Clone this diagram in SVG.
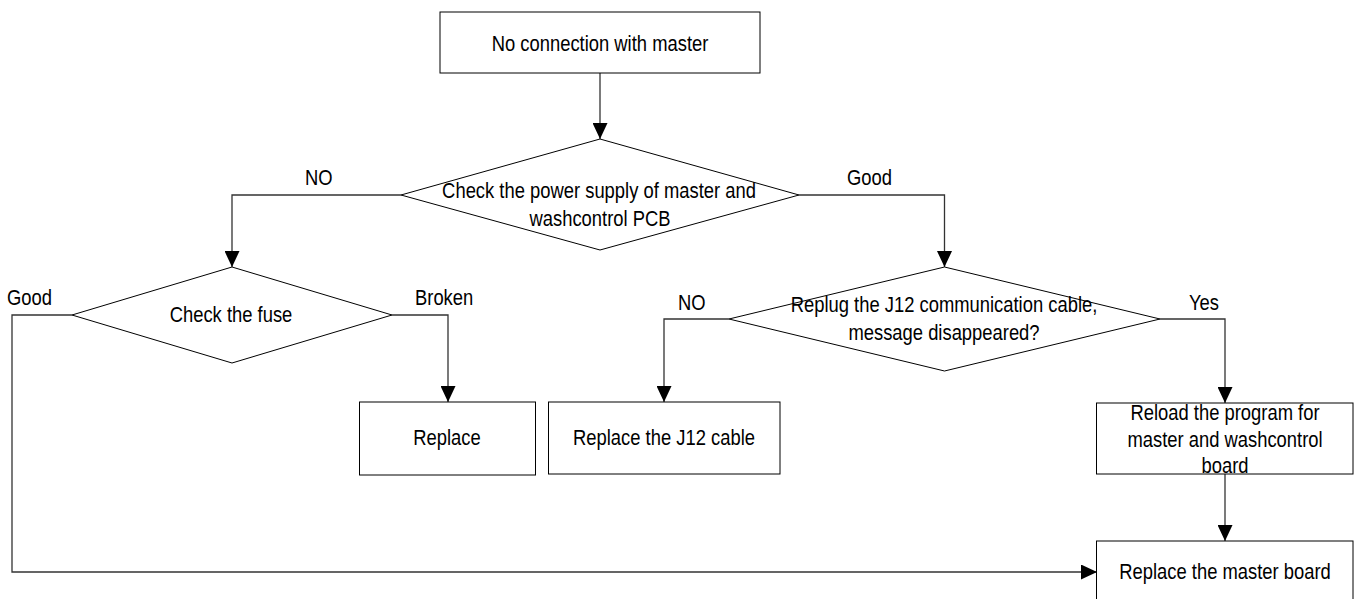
<svg xmlns="http://www.w3.org/2000/svg" width="1359" height="599" viewBox="0 0 1359 599">
<style>
  .shape { fill: #ffffff; stroke: #000000; stroke-width: 1; }
  .conn { fill: none; stroke: #333333; stroke-width: 1.3; }
  text { font-family: "Liberation Sans", Arial, sans-serif; font-size: 18.4px; fill: #000000; text-anchor: middle; }
  .lbl { text-anchor: start; }
</style>
<defs>
  <marker id="arrow" viewBox="0 0 16 15" refX="16" refY="7.5" markerWidth="16" markerHeight="15" markerUnits="userSpaceOnUse" orient="auto">
    <path d="M0,0 L16,7.5 L0,15 z" fill="#000000"/>
  </marker>
</defs>
<rect width="1359" height="599" fill="#ffffff"/>

<g id="connectors">
  <path class="conn" d="M600,73 L600,139" marker-end="url(#arrow)"/>
  <path class="conn" d="M401,195 L232,195 L232,267" marker-end="url(#arrow)"/>
  <path class="conn" d="M799,195 L944.5,195 L944.5,267" marker-end="url(#arrow)"/>
  <path class="conn" d="M392,315 L448,315 L448,402" marker-end="url(#arrow)"/>
  <path class="conn" d="M72,315 L12,315 L12,572 L1097,572" marker-end="url(#arrow)"/>
  <path class="conn" d="M729,319 L664,319 L664,402" marker-end="url(#arrow)"/>
  <path class="conn" d="M1160,319 L1225,319 L1225,403" marker-end="url(#arrow)"/>
  <path class="conn" d="M1225,474 L1225,541" marker-end="url(#arrow)"/>
  <text class="lbl" transform="translate(305 185) scale(1 1.18)">NO</text>
  <text class="lbl" transform="translate(847 185) scale(1 1.18)">Good</text>
  <text class="lbl" transform="translate(7 305) scale(1 1.18)">Good</text>
  <text class="lbl" transform="translate(415 305) scale(1 1.18)">Broken</text>
  <text class="lbl" transform="translate(678 310) scale(1 1.18)">NO</text>
  <text class="lbl" transform="translate(1189 310) scale(1 1.18)">Yes</text>
</g>

<g id="start">
  <rect class="shape" x="440" y="12" width="320" height="61"/>
  <text transform="translate(600 51) scale(1 1.18)">No connection with master</text>
</g>

<g id="check-power">
  <polygon class="shape" points="600,139 799,195 600,250 401,195"/>
  <text transform="translate(599 198) scale(1 1.18)">Check the power supply of master and</text>
  <text transform="translate(600 226) scale(1 1.18)">washcontrol PCB</text>
</g>

<g id="check-fuse">
  <polygon class="shape" points="232,267 392,315 232,363 72,315"/>
  <text transform="translate(231 322) scale(1 1.18)">Check the fuse</text>
</g>

<g id="replace">
  <rect class="shape" x="359.5" y="402" width="176" height="73"/>
  <text transform="translate(447 445) scale(1 1.18)">Replace</text>
</g>

<g id="replug">
  <polygon class="shape" points="944.5,267 1160,319 944.5,371 729,319"/>
  <text transform="translate(944 312) scale(1 1.18)">Replug the J12 communication cable,</text>
  <text transform="translate(944 340) scale(1 1.18)">message disappeared?</text>
</g>

<g id="replace-j12">
  <rect class="shape" x="548.5" y="402" width="231.5" height="72"/>
  <text transform="translate(664 445) scale(1 1.18)">Replace the J12 cable</text>
</g>

<g id="reload">
  <rect class="shape" x="1096.5" y="403" width="256.5" height="71"/>
  <text transform="translate(1225 420) scale(1 1.18)">Reload the program for</text>
  <text transform="translate(1225 447) scale(1 1.18)">master and washcontrol</text>
  <text transform="translate(1225 473) scale(1 1.18)">board</text>
</g>

<g id="replace-master">
  <rect class="shape" x="1096.5" y="541" width="256.5" height="70"/>
  <text transform="translate(1225 579) scale(1 1.18)">Replace the master board</text>
</g>
</svg>
